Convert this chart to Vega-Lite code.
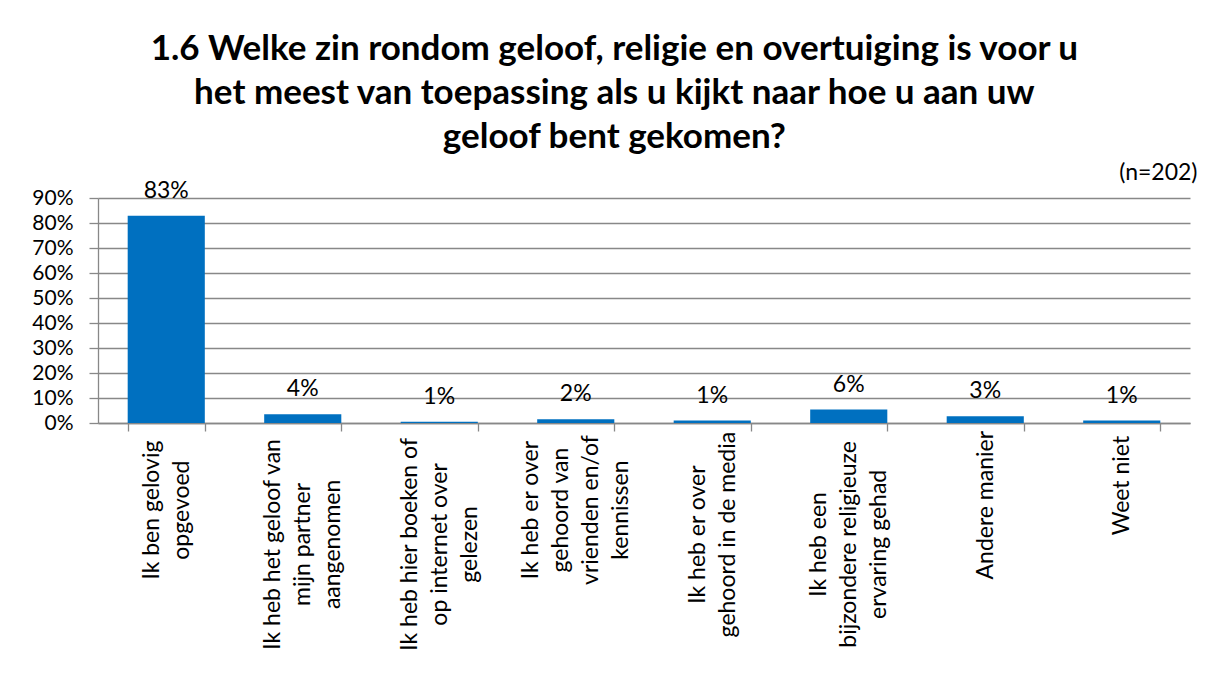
{
  "$schema": "https://vega.github.io/schema/vega-lite/v6.json",
  "width": 1092,
  "height": 225,
  "autosize": {"type": "none"},
  "padding": {"left": 98, "top": 198, "right": 24, "bottom": 261},
  "background": "white",
  "config": {
    "view": {"stroke": null},
    "axis": {
      "labelFont": "Lato",
      "labelFontSize": 23,
      "labelColor": "black",
      "gridColor": "#888888",
      "gridWidth": 1.3,
      "domainColor": "#888888",
      "domainWidth": 1.3,
      "tickColor": "#888888",
      "tickWidth": 1.3
    }
  },
  "title": {
    "text": [
      "1.6 Welke zin rondom geloof, religie en overtuiging is voor u",
      "het meest van toepassing als u kijkt naar hoe u aan uw",
      "geloof bent gekomen?"
    ],
    "font": "Lato",
    "fontSize": 35,
    "fontWeight": "bold",
    "color": "black",
    "lineHeight": 44,
    "anchor": "middle",
    "frame": "bounds",
    "offset": 6
  },
  "data": {
    "values": [
      {"cat": "Ik ben gelovig|opgevoed", "value": 0.829, "label": "83%"},
      {"cat": "Ik heb het geloof van|mijn partner|aangenomen", "value": 0.035, "label": "4%"},
      {"cat": "Ik heb hier boeken of|op internet over|gelezen", "value": 0.005, "label": "1%"},
      {"cat": "Ik heb er over|gehoord van|vrienden en/of|kennissen", "value": 0.015, "label": "2%"},
      {"cat": "Ik heb er over|gehoord in de media", "value": 0.01, "label": "1%"},
      {"cat": "Ik heb een|bijzondere religieuze|ervaring gehad", "value": 0.054, "label": "6%"},
      {"cat": "Andere manier", "value": 0.027, "label": "3%"},
      {"cat": "Weet niet", "value": 0.01, "label": "1%"}
    ]
  },
  "encoding": {
    "y": {
      "field": "value",
      "type": "quantitative",
      "scale": {"domain": [0, 0.9], "nice": false},
      "axis": {
        "title": null,
        "values": [0, 0.1, 0.2, 0.3, 0.4, 0.5, 0.6, 0.7, 0.8, 0.9],
        "format": ".0%",
        "grid": true,
        "labelOverlap": false,
        "labelFontSize": 21,
        "tickSize": 9,
        "labelPadding": 16
      }
    }
  },
  "layer": [
    {
      "mark": {"type": "bar", "color": "#0070C0"},
      "encoding": {
        "x": {
          "field": "cat",
          "type": "nominal",
          "sort": null,
          "scale": {"paddingInner": 0.435, "paddingOuter": 0.2175},
          "axis": {
            "title": null,
            "labelAngle": -90,
            "labelAlign": "center",
            "labelBaseline": "middle",
            "labelLineHeight": 30,
            "labelExpr": "datum.value ? split(datum.value, '|') : ''",
            "labelLimit": 400,
            "labelOverlap": false,
            "labelOffset": {"expr": "datum.value ? -(length(split(datum.value, '|')) - 1) * 15 : 0"},
            "labelPadding": {"expr": "datum.value ? 10 + 4.9 * max(length(split(datum.value, '|')[0]), length(split(datum.value, '|')[1] || ''), length(split(datum.value, '|')[2] || ''), length(split(datum.value, '|')[3] || '')) : 10"},
            "tickBand": "extent",
            "tickSize": 8,
            "grid": false
          }
        }
      }
    },
    {
      "mark": {"type": "text", "font": "Lato", "fontSize": 23, "color": "black", "baseline": "alphabetic", "dy": -18},
      "encoding": {
        "x": {
          "field": "cat",
          "type": "nominal",
          "sort": null,
          "axis": {
            "orient": "top",
            "labels": false,
            "ticks": false,
            "domain": false,
            "grid": false,
            "title": "(n=202)",
            "titleFont": "Lato",
            "titleFontSize": 23,
            "titleFontWeight": "normal",
            "titleColor": "black",
            "titleAnchor": "end",
            "titleAlign": "right",
            "titleX": 1099,
            "titlePadding": 14
          }
        },
        "text": {"field": "label"}
      }
    }
  ],
  "resolve": {"axis": {"x": "independent"}}
}
